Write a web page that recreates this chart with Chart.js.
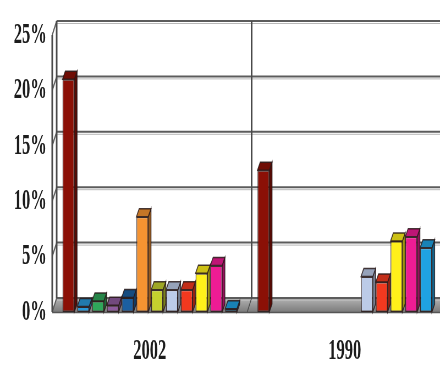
<!DOCTYPE html>
<html>
<head>
<meta charset="utf-8">
<script src="https://cdn.jsdelivr.net/npm/chart.js@4.4.1/dist/chart.umd.min.js"></script>
<style>
  html, body { margin: 0; padding: 0; background: #fff; overflow: hidden; width: 440px; height: 367px; }
  #wrap { width: 810px; height: 367px; transform: scaleX(0.55); transform-origin: 0 0; }
  canvas { display: block; }
</style>
</head>
<body>
<div id="wrap"><canvas id="c" width="810" height="367"></canvas></div>
<script>
// Categories and tick values
const years = ['2002', '1990'];
const yTicks = [0, 5, 10, 15, 20, 25];

// Shares (%) per series, one value per year
const darkRed  = [21.0, 12.8];
const skyBlue  = [0.5, null];
const green    = [1.0, null];
const mauve    = [0.6, null];
const navy     = [1.3, null];
const orange   = [8.6, null];
const lime     = [2.0, null];
const lavender = [2.0, 3.2];
const red      = [2.0, 2.7];
const yellow   = [3.5, 6.4];
const magenta  = [4.2, 6.8];
const cyan     = [0.3, 5.8];

const seriesList = [darkRed, skyBlue, green, mauve, navy, orange, lime, lavender, red, yellow, magenta, cyan];
const colors = ['#8b1006', '#2a9ad8', '#2fa65a', '#8e5b9e', '#1b5fa0', '#f59331',
                '#c5d02e', '#bccbe8', '#f2391f', '#fff01a', '#ee1c94', '#1fa2e2'];

// 3D offsets (canvas units)
const WALL_DX = 8, WALL_DY = 14, BAR_DX = 5, BAR_DY = 8;

function shade(hex, f) {
  const n = parseInt(hex.slice(1), 16);
  const r = Math.round(((n >> 16) & 255) * f);
  const g = Math.round(((n >> 8) & 255) * f);
  const b = Math.round((n & 255) * f);
  return `rgb(${r},${g},${b})`;
}

const FONT = { family: '"Liberation Serif", "Times New Roman", serif', size: 30, weight: 'bold', lineHeight: 1 };

const box3d = {
  id: 'box3d',
  beforeDatasetsDraw(chart) {
    const { ctx, chartArea: a, scales: { x, y } } = chart;
    const y0 = y.getPixelForValue(0);
    const yTop = y.getPixelForValue(yTicks[yTicks.length - 1]);
    ctx.save();
    // floor
    const g = ctx.createLinearGradient(0, y0 - WALL_DY, 0, y0);
    g.addColorStop(0, '#b4b4b4');
    g.addColorStop(0.45, '#9a9a9a');
    g.addColorStop(1, '#7c7c7c');
    ctx.fillStyle = g;
    ctx.beginPath();
    ctx.moveTo(a.left, y0);
    ctx.lineTo(a.right + 20, y0);
    ctx.lineTo(a.right + 20, y0 - WALL_DY);
    ctx.lineTo(a.left + WALL_DX, y0 - WALL_DY);
    ctx.closePath();
    ctx.fill();
    ctx.strokeStyle = '#555';
    ctx.lineWidth = 1.5;
    ctx.beginPath();
    ctx.moveTo(a.left, y0 + 0.5);
    ctx.lineTo(a.right + 20, y0 + 0.5);
    ctx.stroke();

    // back-wall grid lines with the side-wall ticks
    yTicks.forEach(v => {
      const yf = y.getPixelForValue(v);
      const yb = yf - WALL_DY;
      ctx.strokeStyle = '#b8b8b8';
      ctx.lineWidth = 1;
      ctx.beginPath();
      ctx.moveTo(a.left + WALL_DX, yb + 2.5);
      ctx.lineTo(a.right + 20, yb + 2.5);
      ctx.stroke();
      ctx.strokeStyle = '#5c5c5c';
      ctx.lineWidth = 2;
      ctx.beginPath();
      ctx.moveTo(a.left + WALL_DX, yb);
      ctx.lineTo(a.right + 20, yb);
      ctx.stroke();
      ctx.beginPath();
      ctx.moveTo(a.left, yf);
      ctx.lineTo(a.left + WALL_DX, yb);
      ctx.stroke();
    });

    // back-wall left edge and front axis
    ctx.strokeStyle = '#4a4a4a';
    ctx.lineWidth = 3;
    ctx.beginPath();
    ctx.moveTo(a.left + WALL_DX, yTop - WALL_DY);
    ctx.lineTo(a.left + WALL_DX, y0 - WALL_DY);
    ctx.stroke();
    ctx.beginPath();
    ctx.moveTo(a.left, yTop);
    ctx.lineTo(a.left, y0);
    ctx.stroke();

    // category separator on the back wall
    for (let i = 1; i < years.length; i++) {
      const xs = (x.getPixelForValue(i - 1) + x.getPixelForValue(i)) / 2 + WALL_DX;
      ctx.beginPath();
      ctx.moveTo(xs, yTop - WALL_DY);
      ctx.lineTo(xs, y0 - WALL_DY);
      ctx.stroke();
      ctx.lineWidth = 1.5;
      ctx.beginPath();
      ctx.moveTo(xs, y0 - WALL_DY);
      ctx.lineTo(xs - WALL_DX, y0);
      ctx.stroke();
      ctx.lineWidth = 3;
    }
    ctx.restore();
  },
  afterDatasetsDraw(chart) {
    const { ctx } = chart;
    ctx.save();
    chart.data.datasets.forEach((ds, di) => {
      const meta = chart.getDatasetMeta(di);
      meta.data.forEach((el, i) => {
        if (ds.data[i] === null || ds.data[i] === undefined) return;
        const p = el.getProps(['x', 'y', 'base', 'width'], true);
        const l = p.x - p.width / 2, r = p.x + p.width / 2;
        const top = p.y, base = p.base;
        const c = colors[di];
        ctx.strokeStyle = 'rgba(40,25,25,0.85)';
        ctx.lineWidth = 1.5;
        // side face
        ctx.fillStyle = shade(c, 0.62);
        ctx.beginPath();
        ctx.moveTo(r, top);
        ctx.lineTo(r + BAR_DX, top - BAR_DY);
        ctx.lineTo(r + BAR_DX, base - BAR_DY);
        ctx.lineTo(r, base);
        ctx.closePath();
        ctx.fill();
        ctx.stroke();
        // top face
        ctx.fillStyle = shade(c, 0.8);
        ctx.beginPath();
        ctx.moveTo(l, top);
        ctx.lineTo(l + BAR_DX, top - BAR_DY);
        ctx.lineTo(r + BAR_DX, top - BAR_DY);
        ctx.lineTo(r, top);
        ctx.closePath();
        ctx.fill();
        ctx.stroke();
      });
    });
    ctx.restore();
  }
};

new Chart(document.getElementById('c'), {
  type: 'bar',
  data: {
    labels: years,
    datasets: seriesList.map((vals, i) => ({
      data: vals,
      backgroundColor: colors[i],
      borderColor: 'rgba(40,25,25,0.85)',
      borderWidth: 1.5,
      borderSkipped: false,
      barPercentage: 0.8,
      categoryPercentage: 0.91
    }))
  },
  options: {
    responsive: false,
    animation: false,
    layout: { padding: { top: 35, right: 6, bottom: 0, left: 0 } },
    plugins: { legend: { display: false }, tooltip: { enabled: false } },
    scales: {
      x: {
        afterFit: s => { s.height = 55; },
        grid: { display: false, drawTicks: false },
        border: { display: false },
        ticks: { font: FONT, color: '#1c1c1c', padding: 24, maxRotation: 0 }
      },
      y: {
        min: 0,
        max: 25,
        afterFit: s => { s.width = 95; },
        afterBuildTicks: s => { s.ticks = yTicks.map(v => ({ value: v })); },
        grid: { display: false, drawTicks: false },
        border: { display: false },
        ticks: { font: FONT, color: '#1c1c1c', padding: 10, callback: v => v + '%' }
      }
    }
  },
  plugins: [box3d]
});
</script>
</body>
</html>
